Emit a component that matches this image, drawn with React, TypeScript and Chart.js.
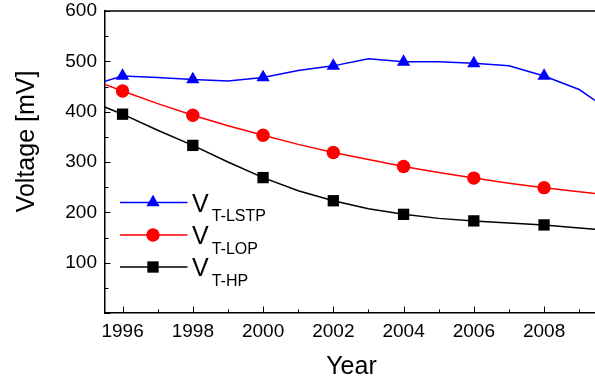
import React, { useEffect, useRef } from "react";
import { Chart, registerables } from "chart.js";

Chart.register(...registerables);

// ---- data ----
const years = [1995, 1996, 1997, 1998, 1999, 2000, 2001, 2002, 2003, 2004, 2005, 2006, 2007, 2008, 2009, 2010];
const vLSTP = [450, 471, 468, 464, 461, 468, 482, 491, 505, 499, 499, 496, 491, 471, 444, 396];
const vLOP = [467, 441, 416, 393, 372, 353, 335, 319, 305, 291, 279, 268, 258, 249, 241, 233];
const vHP = [423, 395, 363, 333, 300, 269, 243, 223, 207, 196, 188, 183, 179, 175, 169, 163];
const markerYears = [1996, 1998, 2000, 2002, 2004, 2006, 2008];
const seriesSubs = ["T-LSTP", "T-LOP", "T-HP"];
const seriesColors = ["#0000ff", "#ff0000", "#000000"];
const seriesMarkers = ["triangle", "circle", "rect"];
const xMajorTicks = [1996, 1998, 2000, 2002, 2004, 2006, 2008];
const xMinorTicks = [1997, 1999, 2001, 2003, 2005, 2007, 2009];
const yMajorTicks = [0, 100, 200, 300, 400, 500, 600];
const yMinorTicks = [50, 150, 250, 350, 450, 550];
const xTitle = "Year";
const yTitle = "Voltage [mV]";

const FONT = "'Liberation Sans', Arial, Helvetica, sans-serif";
const markerRadius: Record<string, number> = { triangle: 7.7, circle: 6.7, rect: 8 };

function drawMarker(ctx: CanvasRenderingContext2D, kind: string, x: number, y: number, color: string) {
  const r = markerRadius[kind];
  ctx.save();
  ctx.fillStyle = color;
  ctx.beginPath();
  if (kind === "triangle") {
    for (let i = 0; i < 3; i++) {
      const a = (i * 2 * Math.PI) / 3;
      const px = x + Math.sin(a) * r;
      const py = y - Math.cos(a) * r;
      if (i === 0) ctx.moveTo(px, py);
      else ctx.lineTo(px, py);
    }
    ctx.closePath();
  } else if (kind === "circle") {
    ctx.arc(x, y, r, 0, Math.PI * 2);
  } else {
    const s = r / Math.SQRT2;
    ctx.rect(x - s, y - s, 2 * s, 2 * s);
  }
  ctx.fill();
  ctx.restore();
}

const decorPlugin = {
  id: "decor",
  afterDraw(chart: any) {
    const ctx: CanvasRenderingContext2D = chart.ctx;
    const { left, right, top, bottom } = chart.chartArea;
    const xs = chart.scales.x;
    const ys = chart.scales.y;
    ctx.save();
    // top frame line
    ctx.strokeStyle = "#000";
    ctx.lineWidth = 1.5;
    ctx.beginPath();
    ctx.moveTo(left, top);
    ctx.lineTo(right, top);
    ctx.stroke();
    // inward ticks
    ctx.lineWidth = 1;
    ctx.beginPath();
    xMajorTicks.forEach((v) => {
      const p = Math.round(xs.getPixelForValue(v)) + 0.5;
      ctx.moveTo(p, bottom);
      ctx.lineTo(p, bottom - 6.5);
    });
    xMinorTicks.forEach((v) => {
      const p = Math.round(xs.getPixelForValue(v)) + 0.5;
      ctx.moveTo(p, bottom);
      ctx.lineTo(p, bottom - 3.5);
    });
    yMajorTicks.forEach((v) => {
      const p = Math.round(ys.getPixelForValue(v)) + 0.5;
      ctx.moveTo(left, p);
      ctx.lineTo(left + 5.5, p);
    });
    yMinorTicks.forEach((v) => {
      const p = Math.round(ys.getPixelForValue(v)) + 0.5;
      ctx.moveTo(left, p);
      ctx.lineTo(left + 3.5, p);
    });
    ctx.stroke();

    // axis titles
    ctx.fillStyle = "#000";
    ctx.font = `25px ${FONT}`;
    ctx.textAlign = "center";
    ctx.textBaseline = "alphabetic";
    ctx.fillText(xTitle, 351.5, 373.5);
    ctx.save();
    ctx.translate(33.5, 141.5);
    ctx.rotate(-Math.PI / 2);
    ctx.fillText(yTitle, 0, 0);
    ctx.restore();

    // legend
    const rowY = [202.5, 235, 267];
    seriesSubs.forEach((sub, i) => {
      const y = rowY[i];
      ctx.strokeStyle = seriesColors[i];
      ctx.lineWidth = 1.5;
      ctx.beginPath();
      ctx.moveTo(120, y);
      ctx.lineTo(187.5, y);
      ctx.stroke();
      drawMarker(ctx, seriesMarkers[i], 153, y, seriesColors[i]);
      ctx.fillStyle = "#000";
      ctx.textAlign = "left";
      ctx.font = `25px ${FONT}`;
      ctx.fillText("V", 192, y + 9.4);
      const w = ctx.measureText("V").width;
      ctx.font = `16px ${FONT}`;
      ctx.fillText(sub, 192 + w + 3, y + 18.6);
    });
    ctx.restore();
  },
};

export default function App() {
  const ref = useRef<HTMLCanvasElement>(null);
  useEffect(() => {
    if (!ref.current) return;
    const mk = (vals: number[]) => years.map((x, i) => ({ x, y: vals[i] }));
    const seriesVals = [vLSTP, vLOP, vHP];
    const chart = new Chart(ref.current, {
      type: "line",
      data: {
        datasets: seriesVals.map((vals, i) => ({
          label: "V" + seriesSubs[i],
          data: mk(vals),
          borderColor: seriesColors[i],
          backgroundColor: seriesColors[i],
          borderWidth: 1.5,
          tension: 0,
          pointStyle: seriesMarkers[i] as any,
          pointRadius: (c: any) => (markerYears.includes(c.raw?.x) ? markerRadius[seriesMarkers[i]] : 0),
          pointHoverRadius: 0,
          pointBorderWidth: 0,
          pointBorderColor: seriesColors[i],
          pointBackgroundColor: seriesColors[i],
          fill: false,
        })),
      },
      options: {
        animation: false,
        responsive: false,
        events: [],
        layout: { padding: { top: 11, left: 0, right: 0, bottom: 0 } },
        plugins: { legend: { display: false }, tooltip: { enabled: false }, title: { display: false } },
        scales: {
          x: {
            type: "linear",
            min: 1995.5,
            max: 2009.45,
            afterBuildTicks: (s: any) => {
              s.ticks = xMajorTicks.map((v) => ({ value: v }));
            },
            afterFit: (s: any) => {
              s.height = 69;
              s.paddingLeft = 0;
              s.paddingRight = 0;
            },
            grid: { display: false, drawTicks: false },
            border: { display: true, color: "#000", width: 1.5 },
            ticks: {
              autoSkip: false,
              maxRotation: 0,
              padding: 7,
              color: "#000",
              font: { family: FONT, size: 19 },
              callback: (v: any) => String(v),
            },
          },
          y: {
            type: "linear",
            min: 0,
            max: 600,
            afterBuildTicks: (s: any) => {
              s.ticks = yMajorTicks.map((v) => ({ value: v }));
            },
            afterFit: (s: any) => {
              s.width = 105;
              s.paddingTop = 0;
              s.paddingBottom = 0;
            },
            grid: { display: false, drawTicks: false },
            border: { display: true, color: "#000", width: 1.5 },
            ticks: {
              padding: 8,
              color: "#000",
              font: { family: FONT, size: 19 },
              callback: (v: any) => (v === 0 ? "" : String(v)),
            },
          },
        },
      },
      plugins: [decorPlugin],
    });
    return () => chart.destroy();
  }, []);
  return (
    <div style={{ position: "fixed", left: 0, top: 0, width: 595, height: 382, background: "#fff" }}>
      <canvas ref={ref} width={595} height={382} style={{ display: "block" }} />
    </div>
  );
}
